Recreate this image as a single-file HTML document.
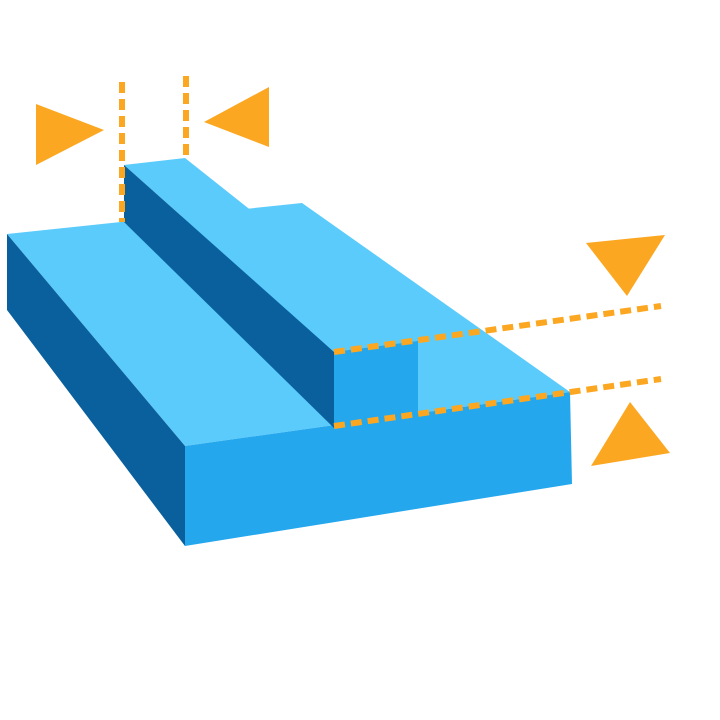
<!DOCTYPE html>
<html><head><style>html,body{margin:0;padding:0;background:#fff;width:720px;height:720px;overflow:hidden}</style></head>
<body>
<svg width="720" height="720" viewBox="0 0 720 720" xmlns="http://www.w3.org/2000/svg">
<polygon points="7,234 302,203 570,392 185,446" fill="#5bcbfc"/>
<polygon points="7,234 185,446 185,546 7,310" fill="#0a609c"/>
<polygon points="185,446 570,392 572,484 185,546" fill="#25a7ee"/>
<polygon points="124,165 185,158 248,208 418,341 334,352" fill="#5bcbfc"/>
<polygon points="124,165 334,352 334,428 124,222" fill="#0a609c"/>
<polygon points="334,352 418,341 418,418 334,428" fill="#25a7ee"/>
<g stroke="#fca721" stroke-width="6" stroke-dasharray="11,6" fill="none">
<line x1="122" y1="82" x2="122" y2="222"/>
<line x1="186" y1="76" x2="186" y2="158"/>
<line x1="334" y1="352" x2="661" y2="306"/>
<line x1="334" y1="426" x2="661" y2="379"/>
</g>
<g fill="#fca721">
<polygon points="36,104 104,130 36,165"/>
<polygon points="269,87 204,122 269,147"/>
<polygon points="586,243 665,235 627,296"/>
<polygon points="630,402 670,453 591,466"/>
</g>
</svg>
</body></html>
